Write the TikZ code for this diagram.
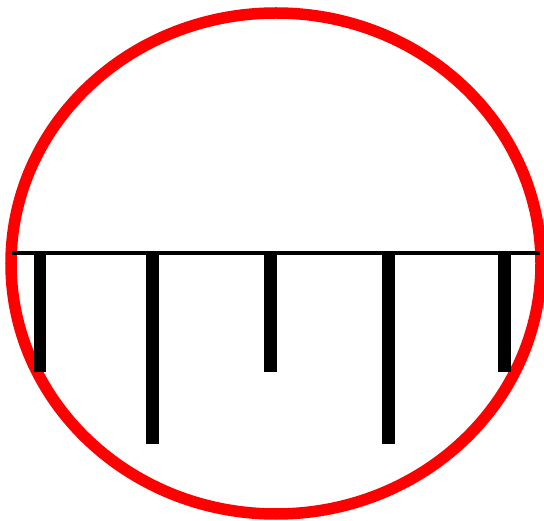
\documentclass[tikz,border=0pt]{standalone}
\begin{document}
\begin{tikzpicture}[x=1pt,y=-1pt,
  rim/.style={draw=red,line width=11.5pt},
  bar/.style={draw=black,line width=12.5pt},
  beam/.style={draw=black,line width=4pt}]
\useasboundingbox (0,0) rectangle (544,521);
\clip (0,0) rectangle (544,521);
\draw[rim] (276,263.5) ellipse [x radius=265, y radius=250.5];
\coordinate (L) at (12,253);
\coordinate (R) at (540,253);
\draw[bar] (40,253) -- (40,372);
\draw[bar] (152.5,253) -- (152.5,444);
\draw[bar] (270.5,253) -- (270.5,372);
\draw[bar] (388.5,253) -- (388.5,444);
\draw[bar] (504.5,253) -- (504.5,372);
\draw[beam] (L) -- (R);
\end{tikzpicture}
\end{document}
